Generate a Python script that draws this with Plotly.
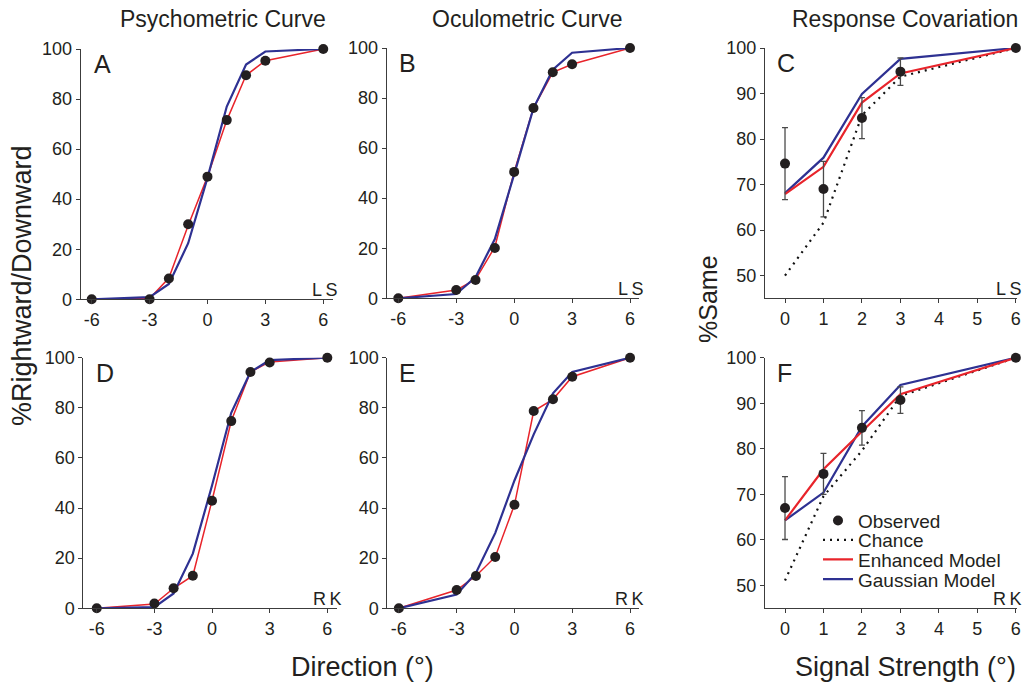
import plotly.graph_objects as go

# ---------------- data ----------------
direction = [-6, -3, -2, -1, 0, 1, 2, 3, 6]
direction_ticks = [-6, -3, 0, 3, 6]

A_observed = [0, 0, 8.3, 30, 49, 71.6, 89.5, 95.3, 100]
A_enhanced = [0, 0.3, 8.5, 29.5, 49, 71.5, 89.5, 95.3, 100]
A_gaussian = [0, 0.9, 6.1, 22.4, 48.5, 77, 93.8, 99, 100]

B_observed = [0, 3.3, 7.3, 20.1, 50.5, 76, 90.3, 93.5, 100]
B_enhanced = [0, 3.3, 7.5, 20.5, 50.5, 76, 90.3, 93.5, 100]
B_gaussian = [0, 1.7, 8.4, 23.7, 49.5, 76, 91.3, 98.1, 100]

D_observed = [0, 1.9, 8, 13, 42.9, 74.7, 94.3, 98.1, 100]
D_enhanced = [0, 1.7, 8, 13, 43, 74.7, 94.3, 98.3, 100]
D_gaussian = [0, 0.5, 5.9, 21.8, 49, 78, 94.3, 99, 100]

E_observed = [0, 7.3, 12.9, 20.5, 41.3, 78.7, 83.4, 92.4, 100]
E_enhanced = [0, 7.3, 12.9, 20.5, 41.3, 78.7, 83.4, 92.4, 100]
E_gaussian = [0, 5.5, 14.1, 30, 51, 69.4, 85.8, 94.3, 100]

strength = [0, 1, 2, 3, 6]
strength_ticks = [0, 1, 2, 3, 4, 5, 6]

C_observed = [74.6, 69, 84.6, 94.8, 100]
C_error = [7.9, 6.1, 4.5, 3.0, 0]
C_enhanced = [67.9, 73.9, 88.0, 94.4, 100]
C_gaussian = [68.1, 75.9, 89.9, 97.6, 100]
C_chance = [50, 61.6, 85.2, 93.7, 100]

F_observed = [67, 74.5, 84.6, 90.7, 100]
F_error = [6.9, 4.5, 3.8, 2.9, 0]
F_enhanced = [64.3, 75.5, 83.8, 92.0, 100]
F_gaussian = [64.3, 70.4, 84.9, 94.0, 100]
F_chance = [51.1, 69.6, 79.6, 91.6, 100]

legend_labels = ["Observed", "Chance", "Enhanced Model", "Gaussian Model"]

# ---------------- style ----------------
W, H = 1026, 685
FONT = "Liberation Sans, Arial, Helvetica, sans-serif"
TXT = "#231f20"
AXC = "#3c3c3c"
RED = "#e8242b"
BLUE = "#2e3192"


def fx(px):
    """pixel x -> paper fraction"""
    return px / W


def fy(py):
    """pixel y (from top) -> paper fraction"""
    return 1 - py / H


panels = [
    # name, x-domain px, y-domain px (top, bottom), xrange, yrange, kind, subject
    ("A", (80.7, 332.7), (49, 299.3), (-6.57, 6.49), (0, 100), "psy", "L\u2009S"),
    ("B", (386.7, 639.3), (48, 298.3), (-6.6, 6.48), (0, 100), "psy", "L\u2009S"),
    ("C", (765.0, 1017.0), (48, 298.3), (-0.52, 6.03), (45, 100), "cov", "L\u2009S"),
    ("D", (83.3, 337.3), (357.7, 608.3), (-6.7, 6.52), (0, 100), "psy", "R\u2009K"),
    ("E", (387.3, 639.3), (357.7, 608.3), (-6.6, 6.48), (0, 100), "psy", "R\u2009K"),
    ("F", (765.0, 1017.0), (357.7, 608.3), (-0.52, 6.03), (45, 100), "cov", "R\u2009K"),
]

psy_data = {
    "A": (A_observed, A_enhanced, A_gaussian),
    "B": (B_observed, B_enhanced, B_gaussian),
    "D": (D_observed, D_enhanced, D_gaussian),
    "E": (E_observed, E_enhanced, E_gaussian),
}
cov_data = {
    "C": (C_observed, C_error, C_enhanced, C_gaussian, C_chance),
    "F": (F_observed, F_error, F_enhanced, F_gaussian, F_chance),
}

fig = go.Figure()
layout = {}
annotations = []

for i, (name, xd, yd, xr, yr, kind, subj) in enumerate(panels, start=1):
    xa = "xaxis" if i == 1 else f"xaxis{i}"
    ya = "yaxis" if i == 1 else f"yaxis{i}"
    xref = "x" if i == 1 else f"x{i}"
    yref = "y" if i == 1 else f"y{i}"
    if kind == "psy":
        xt = direction_ticks
        yt = [0, 20, 40, 60, 80, 100]
    else:
        xt = strength_ticks
        yt = [50, 60, 70, 80, 90, 100]
    common = dict(
        showline=True, linecolor=AXC, linewidth=1, ticks="outside", ticklen=4,
        tickwidth=1, tickcolor=AXC, showgrid=False, zeroline=False, automargin=False,
        tickfont=dict(family=FONT, size=18, color=TXT), fixedrange=True,
    )
    layout[xa] = dict(common, domain=[fx(xd[0]), fx(xd[1])], range=list(xr),
                      tickvals=xt, ticktext=[str(v) for v in xt], anchor=yref)
    layout[ya] = dict(common, domain=[fy(yd[1]), fy(yd[0])], range=list(yr),
                      tickvals=yt, anchor=xref)

    if kind == "psy":
        obs, enh, gau = psy_data[name]
        fig.add_trace(go.Scatter(x=direction, y=enh, mode="lines", xaxis=xref, yaxis=yref,
                                 line=dict(color=RED, width=1.5), showlegend=False,
                                 cliponaxis=False))
        fig.add_trace(go.Scatter(x=direction, y=gau, mode="lines", xaxis=xref, yaxis=yref,
                                 line=dict(color=BLUE, width=2.2), showlegend=False,
                                 cliponaxis=False))
        fig.add_trace(go.Scatter(x=direction, y=obs, mode="markers", xaxis=xref, yaxis=yref,
                                 marker=dict(color=TXT, size=10), showlegend=False,
                                 cliponaxis=False))
    else:
        obs, err, enh, gau, ch = cov_data[name]
        leg = name == "F"
        fig.add_trace(go.Scatter(x=strength, y=ch, mode="lines", xaxis=xref, yaxis=yref,
                                 name=legend_labels[1], legend="legend2",
                                 line=dict(color="#111111", width=2.2, dash="2px,5px"),
                                 showlegend=leg, cliponaxis=False))
        fig.add_trace(go.Scatter(x=strength, y=gau, mode="lines", xaxis=xref, yaxis=yref,
                                 name=legend_labels[3], legend="legend4",
                                 line=dict(color=BLUE, width=2.2), showlegend=leg,
                                 cliponaxis=False))
        fig.add_trace(go.Scatter(x=strength, y=enh, mode="lines", xaxis=xref, yaxis=yref,
                                 name=legend_labels[2], legend="legend3",
                                 line=dict(color=RED, width=2.2), showlegend=leg,
                                 cliponaxis=False))
        fig.add_trace(go.Scatter(x=strength, y=obs, mode="markers", xaxis=xref, yaxis=yref,
                                 name=legend_labels[0], legend="legend",
                                 marker=dict(color=TXT, size=10),
                                 error_y=dict(type="data", array=err, visible=True,
                                              color="#4a4a4a", thickness=1.3, width=3),
                                 showlegend=leg, cliponaxis=False))

    # panel letter
    annotations.append(dict(text=name, xref="paper", yref="paper",
                            x=fx(xd[0] + (11 if name in "AD" else 10)), y=fy(yd[0] + 15),
                            xanchor="left", yanchor="middle", showarrow=False,
                            font=dict(family=FONT, size=25, color=TXT)))
    # subject initials
    annotations.append(dict(text=subj, xref="paper", yref="paper",
                            x=fx(xd[1] + 7), y=fy(yd[1] - 9),
                            xanchor="right", yanchor="middle", showarrow=False,
                            font=dict(family=FONT, size=18, color=TXT)))

# column titles
for txt, cx in [("Psychometric Curve", 222.7), ("Oculometric Curve", 526.7),
                ("Response Covariation", 905)]:
    annotations.append(dict(text=txt, xref="paper", yref="paper", x=fx(cx), y=fy(19),
                            xanchor="center", yanchor="middle", showarrow=False,
                            font=dict(family=FONT, size=23, color=TXT)))

# axis titles
annotations.append(dict(text="Direction (°)", xref="paper", yref="paper", x=fx(362),
                        y=fy(667), xanchor="center", yanchor="middle", showarrow=False,
                        font=dict(family=FONT, size=27, color=TXT)))
annotations.append(dict(text="Signal Strength (°)", xref="paper", yref="paper", x=fx(905),
                        y=fy(667), xanchor="center", yanchor="middle", showarrow=False,
                        font=dict(family=FONT, size=27, color=TXT)))
annotations.append(dict(text="%Rightward/Downward", xref="paper", yref="paper", x=fx(22),
                        y=fy(286), xanchor="center", yanchor="middle", showarrow=False,
                        textangle=-90, font=dict(family=FONT, size=27, color=TXT)))
annotations.append(dict(text="%Same", xref="paper", yref="paper", x=fx(708),
                        y=fy(299), xanchor="center", yanchor="middle", showarrow=False,
                        textangle=-90, font=dict(family=FONT, size=25, color=TXT)))

legend_common = dict(xanchor="left", yanchor="middle", bgcolor="rgba(0,0,0,0)",
                     borderwidth=0, itemwidth=30,
                     font=dict(family=FONT, size=19, color=TXT))
legend_rows = [520.7, 540.0, 559.5, 579.3]

fig.update_layout(
    template="none",
    width=W, height=H,
    margin=dict(l=0, r=0, t=0, b=0, autoexpand=False),
    paper_bgcolor="white", plot_bgcolor="white",
    annotations=annotations,
    showlegend=True,
    hovermode=False,
    legend=dict(legend_common, x=fx(818), y=fy(legend_rows[0])),
    legend2=dict(legend_common, x=fx(818), y=fy(legend_rows[1])),
    legend3=dict(legend_common, x=fx(818), y=fy(legend_rows[2])),
    legend4=dict(legend_common, x=fx(818), y=fy(legend_rows[3])),
    **layout,
)

# let the 1026x685 figure fill the page exactly (no default body margin)
page_css = ("document.documentElement.style.margin='0';"
            "document.body.style.margin='0';"
            "document.documentElement.style.overflow='hidden';"
            "document.body.style.overflow='hidden';")

fig.write_html("out.html", post_script=page_css,
               config={"displayModeBar": False, "staticPlot": False})
